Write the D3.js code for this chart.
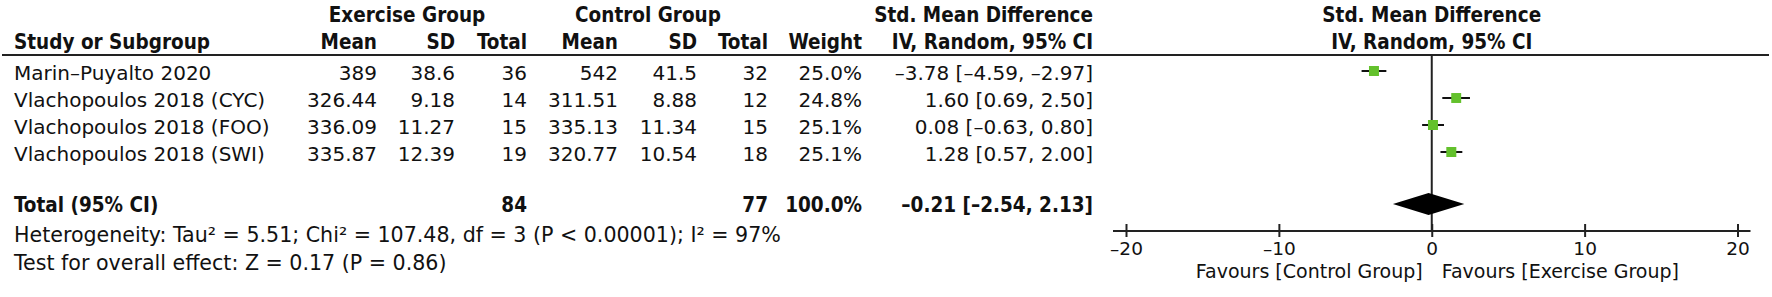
<!DOCTYPE html>
<html>
<head>
<meta charset="utf-8">
<script src="https://cdn.jsdelivr.net/npm/d3@7"></script>
<style>
  html, body { margin: 0; padding: 0; background: #fff; }
  svg { display: block; }
  text { font-family: "DejaVu Sans", sans-serif; fill: #111; }
  .b { font-family: "DejaVu Sans Condensed", "DejaVu Sans", sans-serif; font-weight: bold; }
</style>
</head>
<body>
<div id="forest"></div>
<script>
// ---- data
const studies   = ['Marin–Puyalto 2020', 'Vlachopoulos 2018 (CYC)', 'Vlachopoulos 2018 (FOO)', 'Vlachopoulos 2018 (SWI)'];
const exMean    = [389, 326.44, 336.09, 335.87];
const exSD      = [38.6, 9.18, 11.27, 12.39];
const exN       = [36, 14, 15, 19];
const ctMean    = [542, 311.51, 335.13, 320.77];
const ctSD      = [41.5, 8.88, 11.34, 10.54];
const ctN       = [32, 12, 15, 18];
const weights   = [25.0, 24.8, 25.1, 25.1];
const smd       = [-3.78, 1.60, 0.08, 1.28];
const ciLow     = [-4.59, 0.69, -0.63, 0.57];
const ciHigh    = [-2.97, 2.50, 0.80, 2.00];
const total     = { exN: 84, ctN: 77, weight: 100.0, smd: -0.21, lo: -2.54, hi: 2.13 };
const axisTicks = [-20, -10, 0, 10, 20];
const favours   = ['Favours [Control Group]', 'Favours [Exercise Group]'];
const hetText   = 'Heterogeneity: Tau² = 5.51; Chi² = 107.48, df = 3 (P < 0.00001); I² = 97%';
const testText  = 'Test for overall effect: Z = 0.17 (P = 0.86)';

const W = 1772, H = 297;
const fmt2 = v => (v < 0 ? '–' : '') + Math.abs(v).toFixed(2);
const ciStr = (m, l, h) => `${fmt2(m)} [${fmt2(l)}, ${fmt2(h)}]`;

const svg = d3.select('#forest').append('svg')
  .attr('width', W).attr('height', H)
  .attr('viewBox', `0 0 ${W} ${H}`);

// ---- scales
const x = d3.scaleLinear().domain([-20, 20]).range([1126, 1737.5]);
const yRow = d3.scaleLinear().domain([0, 3]).range([71, 152]); // square centres
const totalY = 204;
const axisY = 231;
const sq = d3.scaleSqrt().domain([0, d3.max(weights)]).range([0, 10]);

// ---- table column right edges
const left = 14;
const cols = { exMean: 377, exSD: 455, exN: 527, ctMean: 618, ctSD: 697, ctN: 768, wt: 862, ci: 1093 };

// header
const hdr1 = 22, hdr2 = 49;
svg.append('text').attr('class', 'b').attr('x', 407).attr('y', hdr1).attr('text-anchor', 'middle').attr('font-size', 20.5).text('Exercise Group');
svg.append('text').attr('class', 'b').attr('x', 648).attr('y', hdr1).attr('text-anchor', 'middle').attr('font-size', 20.5).text('Control Group');
svg.append('text').attr('class', 'b').attr('x', cols.ci).attr('y', hdr1).attr('text-anchor', 'end').attr('font-size', 20.5).text('Std. Mean Difference');
svg.append('text').attr('class', 'b').attr('x', x(0)).attr('y', hdr1).attr('text-anchor', 'middle').attr('font-size', 20.5).text('Std. Mean Difference');

svg.append('text').attr('class', 'b').attr('x', left).attr('y', hdr2).attr('font-size', 20.5).text('Study or Subgroup');
[['exMean', 'Mean'], ['exSD', 'SD'], ['exN', 'Total'], ['ctMean', 'Mean'], ['ctSD', 'SD'], ['ctN', 'Total'], ['wt', 'Weight'], ['ci', 'IV, Random, 95% CI']]
  .forEach(([k, t]) => svg.append('text').attr('class', 'b').attr('x', cols[k]).attr('y', hdr2)
    .attr('text-anchor', 'end').attr('font-size', 20.5).text(t));
svg.append('text').attr('class', 'b').attr('x', x(0)).attr('y', hdr2).attr('text-anchor', 'middle').attr('font-size', 20.5).text('IV, Random, 95% CI');

svg.append('line').attr('x1', 2).attr('x2', 1769).attr('y1', 55).attr('y2', 55)
  .attr('stroke', '#222').attr('stroke-width', 2);

// ---- study rows
const rows = svg.append('g').selectAll('g.row')
  .data(studies.map((s, i) => ({ s, i })))
  .join('g').attr('class', 'row');

rows.append('text').attr('x', left).attr('y', d => yRow(d.i) + 9).attr('font-size', 20).text(d => d.s);
const cells = [
  ['exMean', i => exMean[i]], ['exSD', i => exSD[i]], ['exN', i => exN[i]],
  ['ctMean', i => ctMean[i]], ['ctSD', i => ctSD[i]], ['ctN', i => ctN[i]],
  ['wt', i => weights[i].toFixed(1) + '%'], ['ci', i => ciStr(smd[i], ciLow[i], ciHigh[i])]
];
cells.forEach(([k, f]) => rows.append('text')
  .attr('x', cols[k]).attr('y', d => yRow(d.i) + 9)
  .attr('text-anchor', 'end').attr('font-size', 20).text(d => f(d.i)));

// ---- total row
svg.append('text').attr('class', 'b').attr('x', left).attr('y', 212).attr('font-size', 20.5).text('Total (95% CI)');
svg.append('text').attr('class', 'b').attr('x', cols.exN).attr('y', 212).attr('text-anchor', 'end').attr('font-size', 20.5).text(total.exN);
svg.append('text').attr('class', 'b').attr('x', cols.ctN).attr('y', 212).attr('text-anchor', 'end').attr('font-size', 20.5).text(total.ctN);
svg.append('text').attr('class', 'b').attr('x', cols.wt).attr('y', 212).attr('text-anchor', 'end').attr('font-size', 20.5).text(total.weight.toFixed(1) + '%');
svg.append('text').attr('class', 'b').attr('x', cols.ci).attr('y', 212).attr('text-anchor', 'end').attr('font-size', 20.5).text(ciStr(total.smd, total.lo, total.hi));

svg.append('text').attr('x', left).attr('y', 242).attr('font-size', 20.6).text(hetText);
svg.append('text').attr('x', left).attr('y', 270).attr('font-size', 20.6).text(testText);

// ---- plot
const plot = svg.append('g');

plot.append('line').attr('x1', x(0)).attr('x2', x(0)).attr('y1', 55).attr('y2', axisY)
  .attr('stroke', '#222').attr('stroke-width', 2);

const marks = plot.selectAll('g.mark')
  .data(smd.map((m, i) => ({ m, i })))
  .join('g').attr('class', 'mark');

marks.append('line')
  .attr('x1', d => x(ciLow[d.i])).attr('x2', d => x(ciHigh[d.i]))
  .attr('y1', d => yRow(d.i)).attr('y2', d => yRow(d.i))
  .attr('stroke', '#111').attr('stroke-width', 2);

marks.append('rect')
  .attr('x', d => x(d.m) - sq(weights[d.i]) / 2)
  .attr('y', d => yRow(d.i) - sq(weights[d.i]) / 2)
  .attr('width', d => sq(weights[d.i])).attr('height', d => sq(weights[d.i]))
  .attr('fill', '#63c12c');

// diamond
plot.append('path')
  .attr('d', `M${x(total.lo)},${totalY} L${x(total.smd)},${totalY - 11} L${x(total.hi)},${totalY} L${x(total.smd)},${totalY + 11} Z`)
  .attr('fill', '#000');

// axis
plot.append('line').attr('x1', x(-20) - 13).attr('x2', x(20) + 13).attr('y1', axisY).attr('y2', axisY)
  .attr('stroke', '#222').attr('stroke-width', 2);

const ax = plot.append('g').attr('transform', `translate(0,${axisY})`)
  .call(d3.axisBottom(x).tickValues(axisTicks).tickSize(6).tickFormat(d => (d < 0 ? '–' : '') + Math.abs(d)));
ax.select('.domain').remove();
ax.selectAll('.tick line').attr('y1', -7).attr('y2', 6).attr('stroke', '#222').attr('stroke-width', 2);
ax.selectAll('.tick text').attr('y', 0).attr('dy', 24).attr('font-size', 18.5)
  .attr('font-family', 'DejaVu Sans').attr('fill', '#111');

plot.append('text').attr('x', x(0) - 9).attr('y', 278).attr('text-anchor', 'end').attr('font-size', 19).text(favours[0]);
plot.append('text').attr('x', x(0) + 10).attr('y', 278).attr('font-size', 19).text(favours[1]);
</script>
</body>
</html>
